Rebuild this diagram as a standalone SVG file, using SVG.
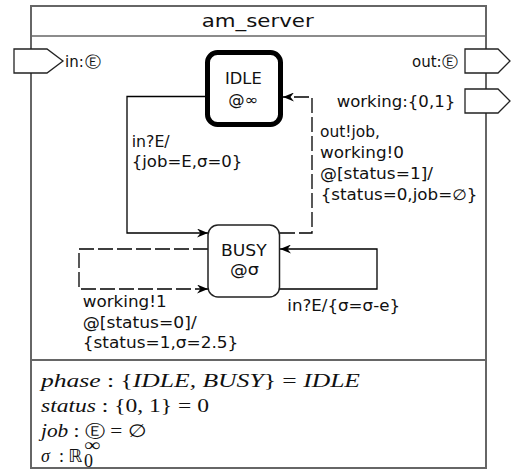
<svg xmlns="http://www.w3.org/2000/svg" width="511" height="470" viewBox="0 0 511 470">
  <style>
    .frame { fill: #ffffff; stroke: #666666; stroke-width: 2; }
    .sep { stroke: #666666; stroke-width: 2; fill: none; }
    .sep-thin { stroke: #666666; stroke-width: 1.4; fill: none; }
    .port { fill: #ffffff; stroke: #222222; stroke-width: 1.3; }
    .lbl { font-family: "DejaVu Sans", "Noto Sans", sans-serif; font-size: 15px; fill: #111111; }
    .title { font-family: "DejaVu Sans", "Noto Sans", sans-serif; font-size: 18px; fill: #111111; }
    .state-init { fill: #ffffff; stroke: #000000; stroke-width: 5; }
    .state { fill: #ffffff; stroke: #222222; stroke-width: 1.5; }
    .conn { fill: none; stroke: #000000; stroke-width: 1.3; marker-end: url(#arrow); }
    .dash { stroke-dasharray: 15 4; }
    .math { font-family: "Liberation Serif", "DejaVu Serif", serif; font-size: 18px; fill: #111111; }
    .it { font-style: italic; }
    .sym { font-family: "DejaVu Sans", sans-serif; }
  </style>
  <defs>
    <marker id="arrow" markerUnits="userSpaceOnUse" markerWidth="12" markerHeight="9" refX="11" refY="4.5" orient="auto">
      <path d="M0,0 L11,4.5 L0,9 L3.5,4.5 z" fill="#000000"/>
    </marker>
  </defs>

  <!-- component frame -->
  <g id="frame">
    <rect class="frame" x="31" y="6" width="455" height="462"/>
    <line class="sep-thin" x1="31" y1="36" x2="486" y2="36"/>
    <line class="sep" x1="31" y1="360" x2="486" y2="360"/>
    <text class="title" x="201.7" y="27" textLength="112" lengthAdjust="spacingAndGlyphs">am_server</text>
  </g>

  <!-- ports -->
  <g id="port-in">
    <polygon class="port" points="14,49 47,49 63,61 47,73 14,73"/>
    <text class="lbl" x="65" y="67">in:</text>
    <text class="lbl" x="85" y="67" font-size="17" textLength="16" lengthAdjust="spacingAndGlyphs">Ⓔ</text>
  </g>
  <g id="port-out">
    <polygon class="port" points="465,49 498,49 510,61 498,73 465,73"/>
    <text class="lbl" x="412" y="67">out:</text>
    <text class="lbl" x="442" y="67" font-size="17" textLength="16" lengthAdjust="spacingAndGlyphs">Ⓔ</text>
  </g>
  <g id="port-working">
    <polygon class="port" points="465,89 498,89 510,101 498,113 465,113"/>
    <text class="lbl" x="336.7" y="107" textLength="118.5" lengthAdjust="spacingAndGlyphs">working:{0,1}</text>
  </g>

  <!-- transitions -->
  <g id="connectors">
    <path class="conn" d="M207,96.5 H127 V233 H208"/>
    <path class="conn dash" d="M280,233 H312 V97 H283"/>
    <path class="conn dash" d="M208,249 H79 V289 H208"/>
    <path class="conn" d="M279,289 H377 V249 H280"/>

    <text class="lbl" x="131.7" y="146.5" textLength="38" lengthAdjust="spacingAndGlyphs">in?E/</text>
    <text class="lbl" x="131.7" y="166.7" textLength="110.7" lengthAdjust="spacingAndGlyphs">{job=E,σ=0}</text>

    <text class="lbl" x="320" y="137" textLength="60" lengthAdjust="spacingAndGlyphs">out!job,</text>
    <text class="lbl" x="320" y="157.5" textLength="84" lengthAdjust="spacingAndGlyphs">working!0</text>
    <text class="lbl" x="320" y="178.5" textLength="113" lengthAdjust="spacingAndGlyphs">@[status=1]/</text>
    <text class="lbl" x="320.7" y="200" textLength="156.7" lengthAdjust="spacingAndGlyphs">{status=0,job=∅}</text>

    <text class="lbl" x="82.7" y="307.3" textLength="84" lengthAdjust="spacingAndGlyphs">working!1</text>
    <text class="lbl" x="82.7" y="328.3" textLength="114" lengthAdjust="spacingAndGlyphs">@[status=0]/</text>
    <text class="lbl" x="82.7" y="348.3" textLength="155.7" lengthAdjust="spacingAndGlyphs">{status=1,σ=2.5}</text>

    <text class="lbl" x="287.3" y="310.7" textLength="112.7" lengthAdjust="spacingAndGlyphs">in?E/{σ=σ-e}</text>
  </g>

  <!-- states -->
  <g id="state-idle">
    <rect class="state-init" x="207.5" y="52.5" width="73" height="72" rx="10"/>
    <text class="lbl" x="225" y="84" textLength="36.7" lengthAdjust="spacingAndGlyphs">IDLE</text>
    <text class="lbl" x="228.3" y="105" textLength="30" lengthAdjust="spacingAndGlyphs">@∞</text>
  </g>
  <g id="state-busy">
    <rect class="state" x="208" y="225" width="71.5" height="72" rx="10"/>
    <text class="lbl" x="221" y="256" textLength="45.7" lengthAdjust="spacingAndGlyphs">BUSY</text>
    <text class="lbl" x="230" y="275" textLength="29" lengthAdjust="spacingAndGlyphs">@σ</text>
  </g>

  <!-- state variables -->
  <g id="variables">
    <text class="math" x="41" y="387" textLength="319" lengthAdjust="spacingAndGlyphs"><tspan class="it">phase</tspan> : {<tspan class="it">IDLE, BUSY</tspan>} = <tspan class="it">IDLE</tspan></text>
    <text class="math" x="41" y="412" textLength="168" lengthAdjust="spacingAndGlyphs"><tspan class="it">status</tspan> : {0, 1} = 0</text>
    <text class="math" x="41" y="437" textLength="105.7" lengthAdjust="spacingAndGlyphs"><tspan class="it">job</tspan> : <tspan class="sym" font-size="17">Ⓔ</tspan> = ∅</text>
    <text class="math it" x="41" y="461.7">σ</text>
    <text class="math" x="59" y="461.7">:</text>
    <text class="math sym" x="68" y="461.7" font-size="16">ℝ</text>
    <text class="math" x="84" y="451" font-size="13" textLength="16" lengthAdjust="spacingAndGlyphs">∞</text>
    <text class="math" x="84" y="467" font-size="11">0</text>
  </g>
</svg>
